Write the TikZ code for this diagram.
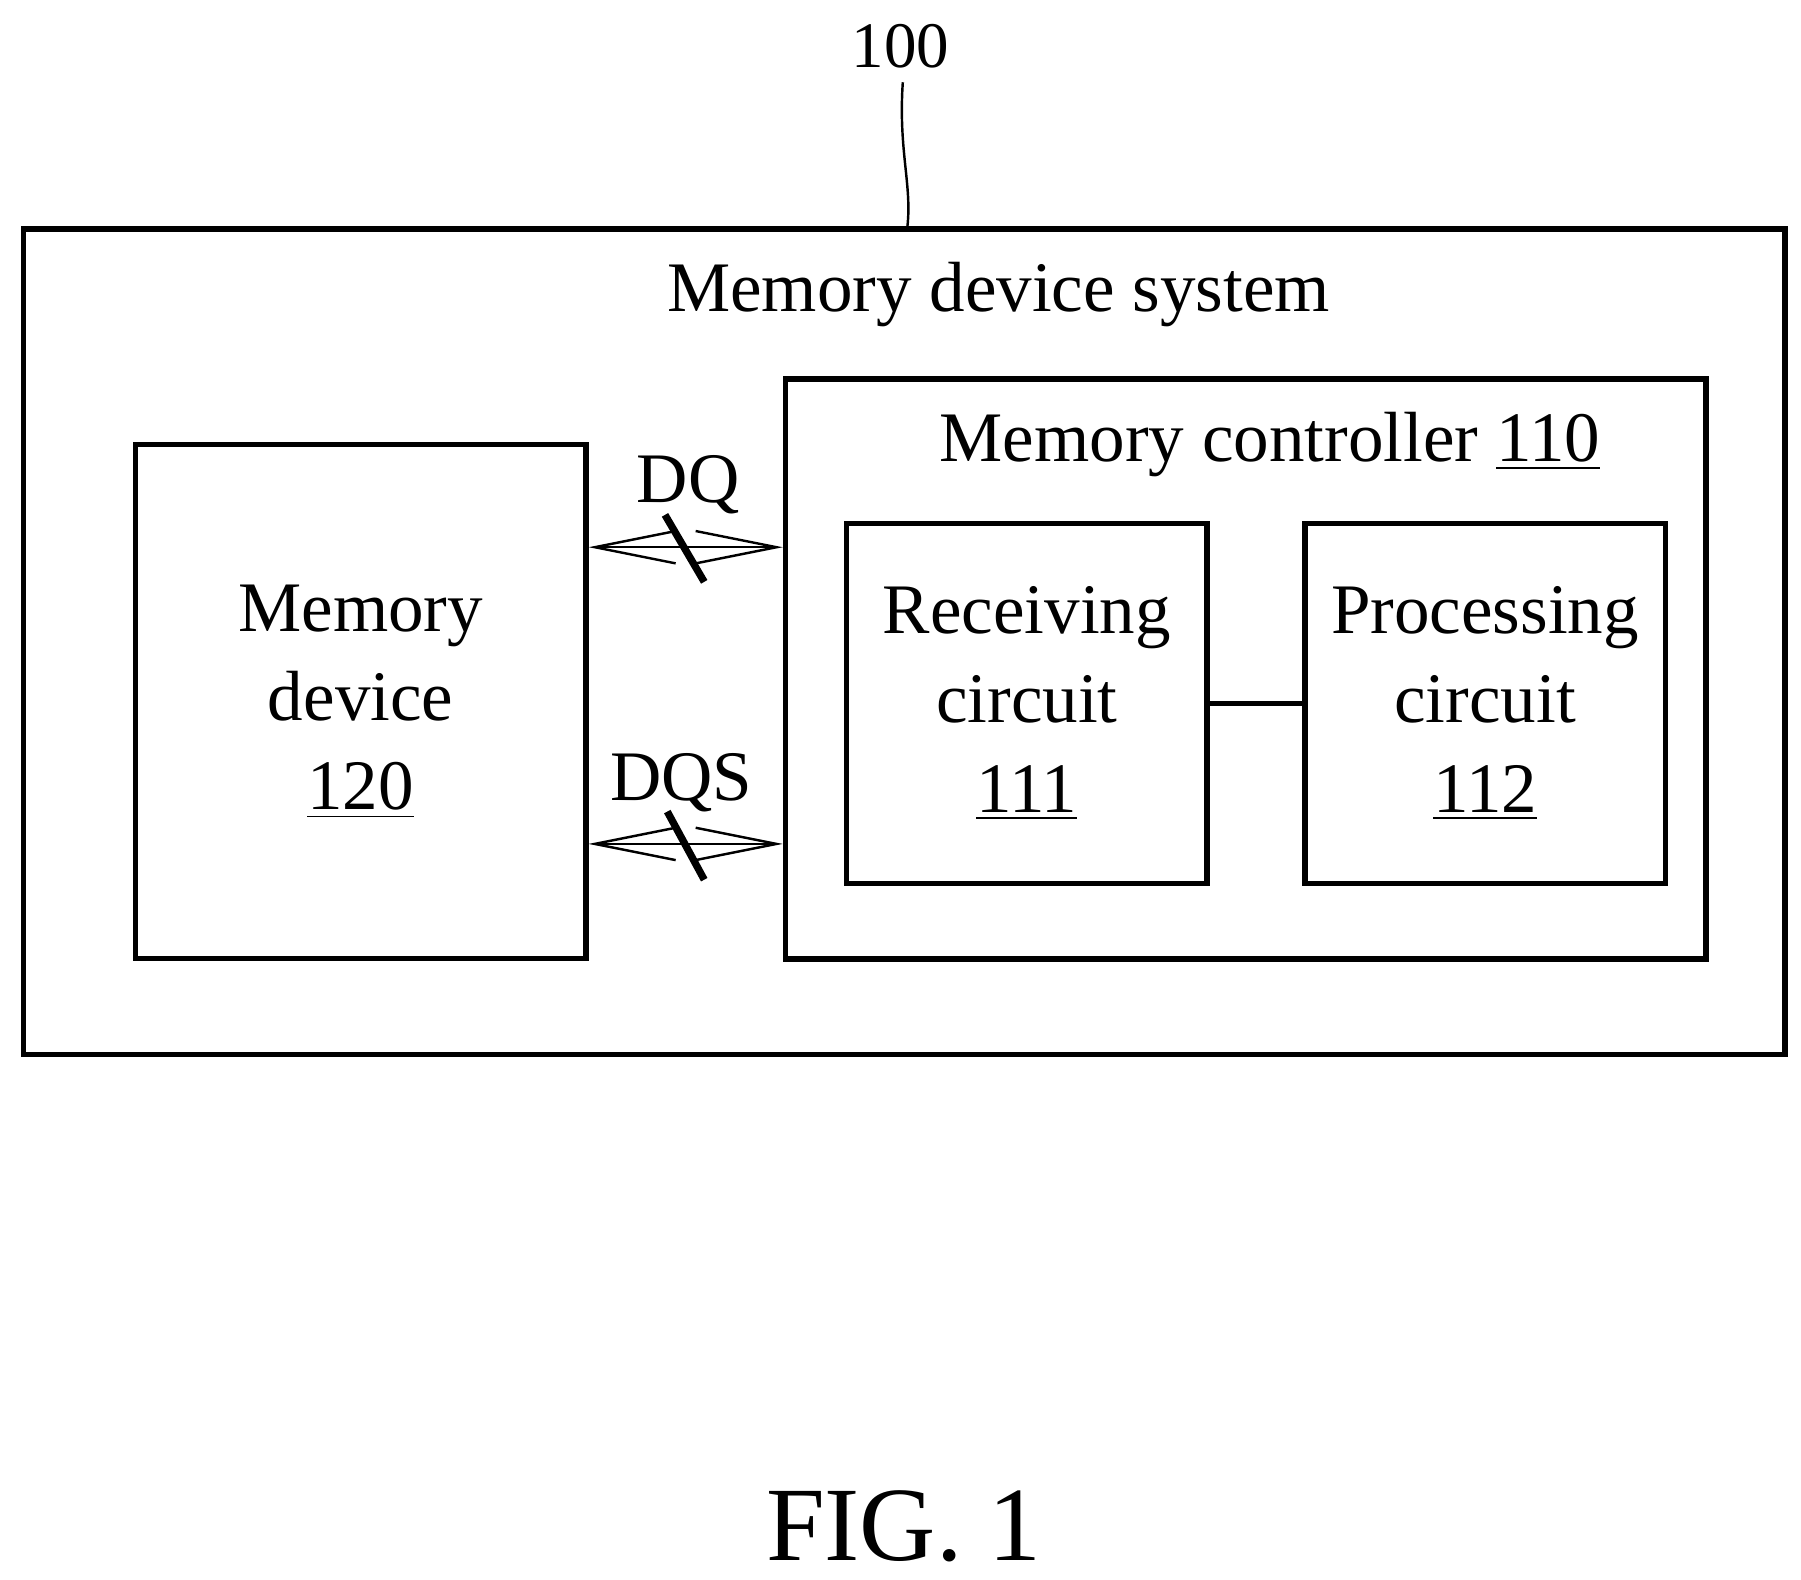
\documentclass[tikz,border=0pt]{standalone}
\usepackage{fontspec}
\setmainfont{Liberation Serif}
\usetikzlibrary{arrows.meta}
\begin{document}
\begin{tikzpicture}[x=0.01cm, y=-0.01cm, inner sep=0pt, line width=1.3pt]
    \tikzstyle{blk}=[rectangle, draw=black, anchor=north west, align=center]
    \tikzstyle{lbl}=[font=\fontsize{17.5}{24}\selectfont, align=center]
    \tikzstyle{bus}=[{Straight Barb[length=7mm, width=2.8mm]}-{Straight Barb[length=7mm, width=2.8mm]}, line width=0.6pt]
    \useasboundingbox (0,0) rectangle (1560,1368);

    \node[blk, minimum width=15.25cm, minimum height=7.15cm] (sys) at (18,196) {};
    \node[blk, minimum width=3.9cm, minimum height=4.45cm] (dev) at (115,383) {};
    \node[blk, minimum width=7.97cm, minimum height=5.02cm] (ctl) at (678,326) {};
    \node[blk, minimum width=3.12cm, minimum height=3.12cm] (rx) at (731,451) {};
    \node[blk, minimum width=3.12cm, minimum height=3.12cm] (px) at (1128,451) {};

    \node[lbl] (syst) at (865,255) {Memory device system};
    \node[lbl] (ctlt) at (1100,385) {Memory controller \underline{110}};
    \node[lbl] (devt) at (dev.center) {Memory\\[-2pt] device\\[-2pt] \underline{120}};
    \node[lbl] (rxt) at (rx.center) {Receiving\\[-2pt] circuit\\[-2pt] \underline{111}};
    \node[lbl] (pxt) at (px.center) {Processing\\[-2pt] circuit\\[-2pt] \underline{112}};
    \node[font=\fontsize{16}{20}\selectfont] (ref) at (780,40) {100};
    \node[font=\fontsize{26}{30}\selectfont] (fig) at (783,1322) {FIG. 1};

    \draw (rx.east) -- (px.west);
    \draw[bus] (dev.east |- 0,474) coordinate (dq1) -- (ctl.west |- 0,474) coordinate (dq2);
    \draw[bus] (dev.east |- 0,731) coordinate (dqs1) -- (ctl.west |- 0,731) coordinate (dqs2);
    \draw[line width=1.8pt] (576,446) -- (610,504);
    \draw[line width=1.8pt] (578,703) -- (610,762);
    \node[lbl] (dq) at (596,420) {DQ};
    \node[lbl] (dqs) at (590,678) {DQS};
    \draw[line width=0.6pt] (ref.south) ++(2,10) .. controls (778,130) and (790,160) .. (sys.north -| 786,0);
\end{tikzpicture}
\end{document}
